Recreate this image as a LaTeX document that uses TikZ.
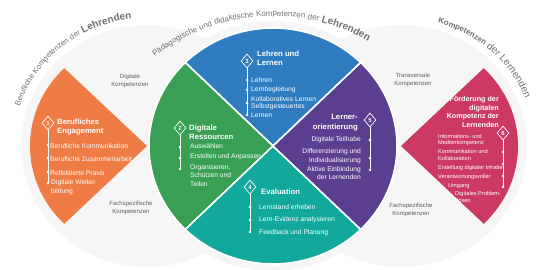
\documentclass[tikz,border=0pt]{standalone}
\usepackage{fontspec}
\setmainfont{Liberation Sans}
\newfontfamily\arcfont[LetterSpace=5]{Liberation Sans}
\usetikzlibrary{shapes.geometric,decorations.text,calc}
\definecolor{orangeS}{HTML}{EF7B45}
\definecolor{greenS}{HTML}{389F55}
\definecolor{blueS}{HTML}{2F7DC0}
\definecolor{purpleS}{HTML}{5A3E8F}
\definecolor{tealS}{HTML}{12A89B}
\definecolor{pinkS}{HTML}{CC3A63}
\definecolor{bggray}{HTML}{F6F6F6}
\definecolor{labgray}{HTML}{5E5E5E}
\definecolor{arcgray}{HTML}{707070}
\tikzset{
  itm/.style={text=white, font=\fontsize{6.7}{8.6}\selectfont, inner sep=0pt},
  pitm/.style={text=white, font=\fontsize{5.6}{6.4}\selectfont, inner sep=0pt},
  ttl/.style={text=white, font=\bfseries\fontsize{7.7}{9.4}\selectfont, inner sep=0pt},
  dia/.style={diamond, draw=white, line width=0.7pt, inner sep=0pt, minimum width=12pt, minimum height=14pt, text=white, font=\bfseries\fontsize{6}{6}\selectfont},
  dotw/.style={circle, fill=white, inner sep=0pt, minimum size=2.6pt},
  stem/.style={white, line width=0.7pt},
  lab/.style={text=labgray, font=\fontsize{6}{7.6}\selectfont, align=center, inner sep=0pt},
  sect/.style={draw=white, line width=1.6pt, line join=miter}
}
\begin{document}
\begin{tikzpicture}[x=1pt,y=1pt]
\clip (0,0) rectangle (543,270);
\coordinate (C) at (273,124);
\coordinate (O) at (147,124);
\coordinate (P) at (401,124);
\coordinate (T) at (273,62);
% background discs
\fill[bggray] (O) ellipse [x radius=126pt, y radius=121pt];
\fill[bggray] (P) ellipse [x radius=126pt, y radius=121pt];
\fill[bggray] (C) ellipse [x radius=131pt, y radius=125pt];
% side wedges
\fill[orangeS] (O) -- ($(O)+(135:117pt and 110pt)$) arc[start angle=135, end angle=225, x radius=117pt, y radius=110pt] -- cycle;
\fill[pinkS] (P) -- ($(P)+(-45:117pt and 110pt)$) arc[start angle=-45, end angle=45, x radius=117pt, y radius=110pt] -- cycle;
% central sectors
\filldraw[sect, fill=blueS] (C) -- ($(C)+(45:124pt and 118pt)$) arc[start angle=45, end angle=135, x radius=124pt, y radius=118pt] -- cycle;
\filldraw[sect, fill=greenS] (C) -- ($(C)+(135:124pt and 118pt)$) arc[start angle=135, end angle=225, x radius=124pt, y radius=118pt] -- cycle;
\filldraw[sect, fill=tealS] (C) -- ($(C)+(225:124pt and 118pt)$) arc[start angle=225, end angle=315, x radius=124pt, y radius=118pt] -- cycle;
\filldraw[sect, fill=purpleS] (C) -- ($(C)+(-45:124pt and 118pt)$) arc[start angle=-45, end angle=45, x radius=124pt, y radius=118pt] -- cycle;
% arc texts
\path[decorate, decoration={text along path, text color=arcgray, text align=left,
  text={|\arcfont\fontsize{7.6}{10}\selectfont|Berufliche Kompetenzen der |\bfseries|Lehrenden}}]
  ($(O)+(162:134pt and 128pt)$) arc[start angle=162, end angle=50, x radius=134pt, y radius=128pt];
\path[decorate, decoration={text along path, text color=arcgray, text align=left,
  text={|\arcfont\fontsize{7.9}{10}\selectfont|Pädagogische und didaktische Kompetenzen der |\bfseries|Lehrenden}}]
  ($(T)+(128:192pt)$) arc[start angle=128, end angle=35, radius=192pt];
\path[decorate, decoration={text along path, text color=arcgray, text align=left,
  text={|\arcfont\fontsize{7.9}{10}\selectfont\bfseries|Kompetenzen |\mdseries|der Lernenden}}]
  ($(P)+(74:134pt and 128pt)$) arc[start angle=74, end angle=-30, x radius=134pt, y radius=128pt];
% gray labels
\node[lab] (l1) at (130,189) {Digitale\\Kompetenzen};
\node[lab] (l2) at (131,62) {Fachspezifische\\Kompetenzen};
\node[lab] (l3) at (413,190) {Transversale\\Kompetenzen};
\node[lab] (l4) at (411,60) {Fachspezifische\\Kompetenzen};
% 1 orange
\node[dia, fill=orangeS] (d1) at (48,147) {1};
\node[ttl, anchor=west, align=left] (t1) at (57,143) {Berufliches\\Engagement};
\node[dotw] (o1) at (48,125) {};
\node[dotw] (o2) at (48,112) {};
\node[dotw] (o3) at (48,98) {};
\node[dotw] (o4) at (48,87) {};
\draw[stem] (d1.south) -- (o4.center);
\node[itm, anchor=west] (i11) at (50,124) {Berufliche Kommunikation};
\node[itm, anchor=west] (i12) at (50,111) {Berufliche Zusammenarbeit};
\node[itm, anchor=west] (i13) at (50,97) {Reflektierte Praxis};
\node[itm, anchor=west, align=left] (i14) at (51,82.5) {Digitale Weiter-\\bildung};
% 2 green
\node[dia, fill=greenS] (d2) at (180,142) {2};
\node[ttl, anchor=west, align=left] (t2) at (189,137.5) {Digitale\\Ressourcen};
\node[dotw] (g1) at (180,123) {};
\node[dotw] (g2) at (180,112) {};
\node[dotw] (g3) at (180,101) {};
\draw[stem] (d2.south) -- (g3.center);
\node[itm, anchor=west] (i21) at (190,124) {Auswählen};
\node[itm, anchor=west] (i22) at (190,113) {Erstellen und Anpassen};
\node[itm, anchor=west, align=left] (i23) at (190,94.5) {Organisieren,\\Schützen und\\Teilen};
% 3 blue
\node[dia, fill=blueS] (d3) at (247,209) {3};
\node[ttl, anchor=west, align=left] (t3) at (257,211.5) {Lehren und\\Lernen};
\node[dotw] (b1) at (247,190) {};
\node[dotw] (b2) at (247,180) {};
\node[dotw] (b3) at (247,167) {};
\node[dotw] (b4) at (247,155) {};
\draw[stem] (d3.south) -- (b4.center);
\node[itm, anchor=west] (i31) at (251,190) {Lehren};
\node[itm, anchor=west] (i32) at (251,180) {Lernbegleitung};
\node[itm, anchor=west] (i33) at (251,171) {Kollaboratives Lernen};
\node[itm, anchor=west] (i34) at (251,163) {Selbstgesteuertes};
\node[itm, anchor=west] (i35) at (251,155) {Lernen};
% 5 purple
\node[dia, fill=purpleS] (d5) at (370,150) {5};
\node[ttl, anchor=east, align=right] (t5) at (358,147.5) {Lerner-\\orientierung};
\node[dotw] (p1) at (370,130) {};
\node[dotw] (p2) at (370,112) {};
\node[dotw] (p3) at (370,100) {};
\draw[stem] (d5.south) -- (p3.center);
\node[itm, anchor=east] (i51) at (361,130) {Digitale Teilhabe};
\node[itm, anchor=east, align=right] (i52) at (361,113.5) {Differenzierung und\\Individualisierung};
\node[itm, anchor=east, align=right] (i53) at (361,97) {Aktive Einbindung\\der Lernenden};
% 4 teal
\node[dia, fill=tealS] (d4) at (250,83) {4};
\node[ttl, anchor=west] (t4) at (261,78) {Evaluation};
\node[dotw] (e1) at (250,63) {};
\node[dotw] (e2) at (250,50) {};
\node[dotw] (e3) at (250,38) {};
\draw[stem] (d4.south) -- (e3.center);
\node[itm, anchor=west] (i41) at (259,63) {Lernstand erheben};
\node[itm, anchor=west] (i42) at (259,50) {Lern-Evidenz analysieren};
\node[itm, anchor=west] (i43) at (259,37) {Feedback und Planung};
% 6 pink
\node[ttl, anchor=east, align=right, font=\bfseries\fontsize{7.2}{8.4}\selectfont] (t6) at (499,158) {Förderung der\\digitalen\\Kompetenz der\\Lernenden};
\node[dia, fill=pinkS] (d6) at (503,137) {6};
\node[dotw] (k1) at (503,118) {};
\node[dotw] (k2) at (503,106) {};
\node[dotw] (k3) at (503,94) {};
\node[dotw] (k4) at (503,83) {};
\draw[stem] (d6.south) -- (k4.center);
\node[pitm, anchor=west] (i61) at (438,133) {Informations- und};
\node[pitm, anchor=west] (i62) at (438,127) {Medienkompetenz};
\node[pitm, anchor=west] (i63) at (438,118) {Kommunikation und};
\node[pitm, anchor=west] (i64) at (438,111) {Kollaboration};
\node[pitm, anchor=west] (i65) at (438,102) {Erstellung digitaler Inhalte};
\node[pitm, anchor=west] (i66) at (438,93) {Verantwortungsvoller};
\node[pitm, anchor=west] (i67) at (448,84) {Umgang};
\node[pitm, anchor=west] (i68) at (455,76) {Digitales Problem-};
\node[pitm, anchor=west] (i69) at (457,69) {lösen};
\end{tikzpicture}
\end{document}
